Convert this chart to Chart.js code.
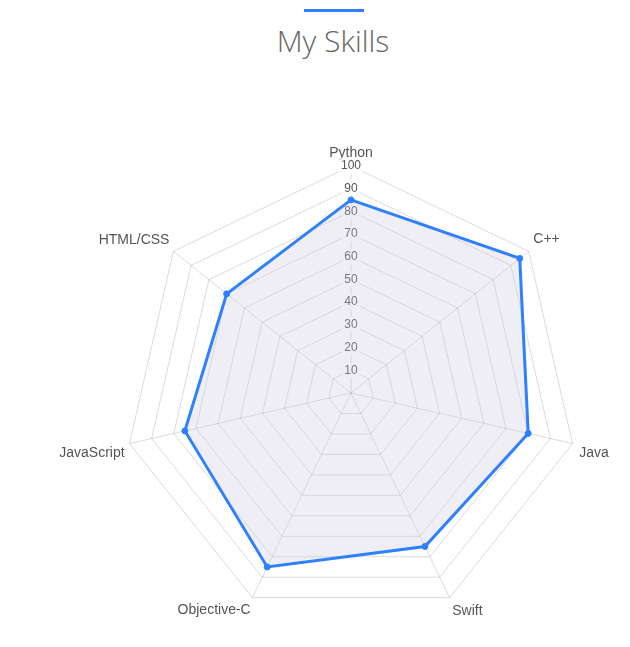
<!DOCTYPE html>
<html>
<head>
<meta charset="utf-8">
<script src="https://cdn.jsdelivr.net/npm/chart.js@4"></script>
<style>
  html,body{margin:0;padding:0;background:#fff;width:630px;height:647px;overflow:hidden;}
  .bar{position:absolute;left:304px;top:9px;width:60px;height:3px;background:#2f80ff;}
  h2{position:absolute;left:0;top:20px;width:666px;margin:0;text-align:center;font-family:"Open Sans",sans-serif;font-weight:300;font-size:30px;color:#666;}
  #wrap{position:absolute;left:0;top:139px;width:702px;height:496px;}
</style>
</head>
<body>
<div class="bar"></div>
<h2>My Skills</h2>
<div id="wrap"><canvas id="c"></canvas></div>
<script>
const categories = ["Python","C++","Java","Swift","Objective-C","JavaScript","HTML/CSS"];
const skillValues = [85, 95, 80, 75, 85, 75, 70];
const tickMin = 0, tickMax = 100, tickStep = 10;
const labelPadding = [-4, -2, -1, -2, -4, -3, -3];

new Chart(document.getElementById('c'), {
  type: 'radar',
  data: {
    labels: categories,
    datasets: [{
      label: 'Skills',
      data: skillValues,
      borderColor: '#2f80ff',
      backgroundColor: 'rgba(200,198,220,0.3)',
      borderWidth: 3,
      pointRadius: 3,
      pointBackgroundColor: '#2f80ff',
      pointBorderColor: '#2f80ff',
      pointBorderWidth: 1,
      fill: true
    }]
  },
  options: {
    responsive: true,
    maintainAspectRatio: false,
    animation: false,
    plugins: { legend: { display: false }, tooltip: { enabled: false } },
    scales: {
      r: {
        min: tickMin, max: tickMax,
        ticks: { stepSize: tickStep, color: '#555', font: { family: 'Arial, "Liberation Sans"', size: 12 } },
        grid: { color: 'rgba(0,0,0,0.14)' },
        angleLines: { color: 'rgba(0,0,0,0.14)' },
        pointLabels: {
          color: '#555',
          padding: (ctx) => labelPadding[ctx.index],
          font: { family: 'Arial, "Liberation Sans"', size: 14 }
        }
      }
    }
  }
});
</script>
</body>
</html>
